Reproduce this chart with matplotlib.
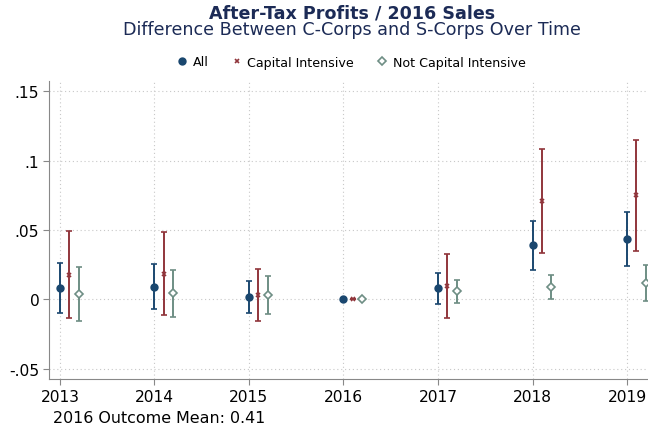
import matplotlib.pyplot as plt
import numpy as np

years = [2013, 2014, 2015, 2016, 2017, 2018, 2019]

all_est = [0.0084, 0.0092, 0.0019, 0.0, 0.0082, 0.0392, 0.0435]
all_lo = [-0.0096, -0.0072, -0.0099, 0.0, -0.0031, 0.0214, 0.0238]
all_hi = [0.0260, 0.0257, 0.0135, 0.0, 0.0193, 0.0568, 0.0630]

cap_est = [0.0175, 0.0185, 0.0031, 0.0, 0.0096, 0.0709, 0.0750]
cap_lo = [-0.0137, -0.0115, -0.0157, 0.0, -0.0132, 0.0337, 0.0349]
cap_hi = [0.0490, 0.0483, 0.0216, 0.0, 0.0327, 0.1082, 0.1149]

ncap_est = [0.0036, 0.0046, 0.0031, 0.0, 0.0060, 0.0089, 0.0115]
ncap_lo = [-0.0157, -0.0125, -0.0106, 0.0, -0.0024, 0.0, -0.0012]
ncap_hi = [0.0233, 0.0212, 0.0166, 0.0, 0.0139, 0.0175, 0.0245]

yticks = [-0.05, 0, 0.05, 0.1, 0.15]
ylabels = ["-.05", "0", ".05", ".1", ".15"]

navy = "#1a476f"
maroon = "#90353b"
teal = "#6e8e84"
title_col = "#1c2b56"

fig = plt.figure(figsize=(6.48, 4.31), dpi=100)
ax = fig.add_axes([49 / 648, 1 - 380 / 431, 599 / 648, 298 / 431])

x = np.array(years, dtype=float)


def draw(xs, est, lo, hi, color, marker, ms, mfc, label):
    est = np.array(est)
    err = [est - np.array(lo), np.array(hi) - est]
    ax.errorbar(xs, est, yerr=err, fmt="none", ecolor=color, elinewidth=1.4,
                capsize=2.3, capthick=1.2, zorder=2)
    ax.plot(xs, est, linestyle="none", marker=marker, ms=ms, color=color,
            mfc=mfc, mec=color, mew=1.2, label=label, zorder=3)


draw(x, all_est, all_lo, all_hi, navy, "o", 4.8, navy, "All")
draw(x + 0.1, cap_est, cap_lo, cap_hi, maroon, "x", 2.6, maroon, "Capital Intensive")
draw(x + 0.2, ncap_est, ncap_lo, ncap_hi, teal, "D", 3.8, "white", "Not Capital Intensive")

ax.set_xlim(2012.884, 2019.222)
ax.set_ylim(-0.0574, 0.1574)
ax.set_xticks(years)
ax.set_xticklabels([str(y) for y in years], fontsize=11.2)
ax.set_yticks(yticks)
ax.set_yticklabels(ylabels, fontsize=11.2)
ax.grid(True, linestyle=(0, (1, 2.5)), color="#c8c8c8", linewidth=0.8)
ax.set_axisbelow(True)
for s in ["top", "right"]:
    ax.spines[s].set_visible(False)
for s in ["left", "bottom"]:
    ax.spines[s].set_color("#888888")
ax.tick_params(colors="#888888", labelcolor="black", length=4.5, pad=2.5)

fig.text(352 / 648, 1 - 13 / 431, "After-Tax Profits / 2016 Sales", ha="center", va="center",
         fontsize=12.6, fontweight="bold", color=title_col)
fig.text(352 / 648, 1 - 30 / 431, "Difference Between C-Corps and S-Corps Over Time", ha="center",
         va="center", fontsize=12.6, color=title_col)

fig.legend(loc="center", bbox_to_anchor=(350 / 648, 1 - 63 / 431), ncol=3, frameon=False,
           fontsize=9.1, handletextpad=0.25, columnspacing=1.6, markerscale=1.0,
           handlelength=1.2)

fig.text(53 / 648, 1 - 419 / 431, "2016 Outcome Mean: 0.41", ha="left", va="center",
         fontsize=11.4)

fig.savefig("out.png", dpi=100)
